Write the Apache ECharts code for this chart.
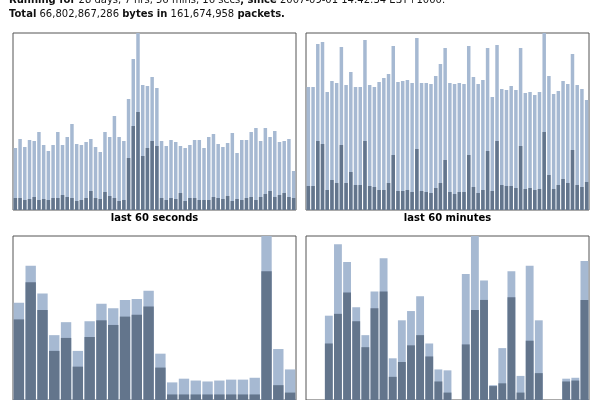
<!DOCTYPE html>
<html><head><meta charset="utf-8">
<script src="https://cdn.jsdelivr.net/npm/echarts@6/dist/echarts.min.js"></script>
<style>html,body{margin:0;padding:0;background:#fff}#c{width:600px;height:400px}</style>
</head><body><div id="c"></div>
<script>
// Values are bar heights in the chart's own units (0..177 = full panel)
const secTotal = [62,71,63,70,69,78,65,59,65,78, 65,73,86,66,65,68,71,63,58,78, 73,94,73,69,111,151,177,125,124,133, 122,69,64,70,68,64,62,65,70,70, 62,73,76,66,63,67,77,57,70,70, 78,82,69,82,73,79,68,69,71,39];
const secDark  = [12,12,10,11,13,10,11,10,12,12, 15,13,12,9,10,12,19,12,11,18, 14,12,9,10,52,84,98,54,62,69, 64,12,10,12,11,17,9,12,12,10, 10,10,13,12,11,14,9,11,10,12, 13,10,13,16,19,13,15,17,13,12];
const minTotal = [123,123,166,168,118,129,127,163,125,138, 123,123,170,125,123,128,132,136,164,128, 129,130,127,172,127,127,126,134,146,162, 127,126,127,126,164,133,126,130,162,113, 165,121,120,124,120,162,117,118,115,118, 177,134,116,119,129,126,156,125,121,110];
const minDark  = [24,24,69,66,20,30,27,65,27,38, 25,25,69,24,23,20,20,27,55,19, 19,20,18,61,19,18,17,22,27,50, 18,16,18,18,55,23,17,20,59,19, 69,25,24,24,22,64,21,22,20,21, 78,35,21,25,31,27,60,25,23,28];
const hourTotal = [105,145,115,70,84,53,85,104,99,108,109,118,50,19,23,21,20,21,22,22,24,177,55,33];
const hourDark  = [87,127,97,53,67,36,68,86,81,90,92,101,35,6,6,6,6,6,6,6,6,139,16,8];
const dayTotal = [0,0,91,168,149,100,70,117,153,45,86,96,112,61,33,32,0,136,177,129,16,56,139,26,145,86,0,0,23,24,150];
const dayDark  = [0,0,61,93,116,85,57,99,117,25,41,59,70,47,20,8,0,60,97,108,15,18,111,8,64,29,0,0,20,21,108];
const panelTitles = ['last 60 seconds', 'last 60 minutes'];
const headerLine1 = ['Running for', ' 28 days, 7 hrs, 56 mins, 16 secs', ', since', ' 2007-09-01 14:42:34 EST+1000.'];
const headerLine2 = ['Total', ' 66,802,867,286 ', 'bytes in', ' 161,674,958 ', 'packets.'];

const LIGHT = '#a6b9d2', DARK = '#63758c';
const panels = [
  {t: secTotal, d: secDark, left: 13, top: 33, gap: '26%'},
  {t: minTotal, d: minDark, left: 306, top: 33, gap: '26%'},
  {t: hourTotal, d: hourDark, left: 13, top: 236, gap: '12%'},
  {t: dayTotal, d: dayDark, left: 306, top: 236, gap: '14%'}
];
const grid = [], xAxis = [], yAxis = [], series = [];
panels.forEach((p, i) => {
  grid.push({left: p.left, top: p.top, width: 283, height: 177, show: true, borderColor: '#555', borderWidth: 1, backgroundColor: '#fff'});
  xAxis.push({type: 'category', gridIndex: i, show: false, boundaryGap: true});
  yAxis.push({type: 'value', gridIndex: i, min: 0, max: 177, show: false});
  series.push({type: 'bar', xAxisIndex: i, yAxisIndex: i, data: p.t, itemStyle: {color: LIGHT}, barGap: '-100%', barCategoryGap: p.gap, silent: true});
  series.push({type: 'bar', xAxisIndex: i, yAxisIndex: i, data: p.d, itemStyle: {color: DARK}, barGap: '-100%', barCategoryGap: p.gap, silent: true});
});
function rich(parts) { return parts.map((s, k) => k % 2 === 0 ? '{b|' + s + '}' : s).join(''); }
const txtBase = {fontFamily: 'DejaVu Sans', fontSize: 10, fill: '#111', verticalAlign: 'middle', rich: {b: {fontFamily: 'DejaVu Sans', fontSize: 10, fontWeight: 'bold', color: '#000'}}};
const graphic = [
  {type: 'text', x: 9, y: 0.8, style: Object.assign({}, txtBase, {text: rich(headerLine1)})},
  {type: 'text', x: 9, y: 14.5, style: Object.assign({}, txtBase, {text: rich(headerLine2)})},
  {type: 'text', x: 154.5, y: 218, style: {text: panelTitles[0], fontFamily: 'DejaVu Sans', fontSize: 10, fontWeight: 'bold', fill: '#000', align: 'center', verticalAlign: 'middle'}},
  {type: 'text', x: 447.5, y: 218, style: {text: panelTitles[1], fontFamily: 'DejaVu Sans', fontSize: 10, fontWeight: 'bold', fill: '#000', align: 'center', verticalAlign: 'middle'}}
];
const chart = echarts.init(document.getElementById('c'), null, {renderer: 'canvas'});
chart.setOption({animation: false, backgroundColor: '#fff', grid, xAxis, yAxis, series, graphic});
</script></body></html>
